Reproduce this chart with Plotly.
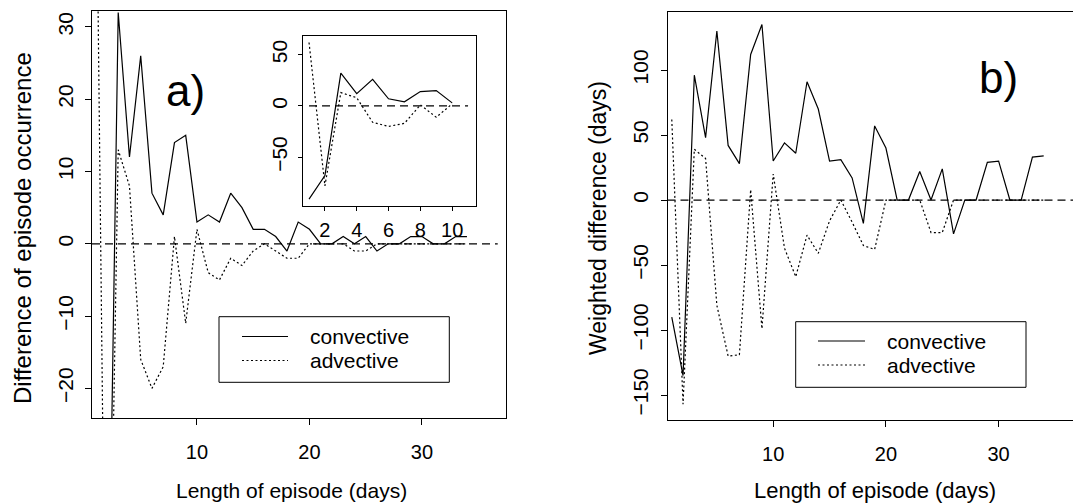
import plotly.graph_objects as go

# ---------------- data ----------------
days = list(range(1, 35))
conv_count = [-91, -68, 32, 12, 26, 7, 4, 14, 15, 3, 4, 3, 7, 5, 2, 2, 1, -1, 3, 2,
              0, 0, 1, 0, 1, -1, 0, 0, 1, 1, 0, 0, 1, 1]
adv_count = [62, -78, 13, 8, -16, -20, -17, 1, -11, 2, -4, -5, -2, -3, -1, 0, -1, -2, -2, 0,
             0, 0, 0, -1, -1, 0, 0, 0, 0, 0, 0, 0, 0, 0]
conv_weighted = [-90, -135, 96, 48, 130, 42, 28, 112, 135, 30, 44, 36, 91, 70, 30, 31, 17, -18, 57, 40,
                 0, 0, 22, 0, 24, -26, 0, 0, 29, 30, 0, 0, 33, 34]
adv_weighted = [62, -157, 39, 32, -81, -120, -119, 8, -99, 20, -37, -59, -27, -41, -16, 0, -17, -35, -38, 0,
                0, 0, 0, -25, -25, 0, 0, 0, 0, 0, 0, 0, 0, 0]
inset_n = 10
x_ticks = [10, 20, 30]
inset_x_ticks = [2, 4, 6, 8, 10]
ya_ticks = [-20, -10, 0, 10, 20, 30]
yb_ticks = [-150, -100, -50, 0, 50, 100]
inset_y_ticks = [-50, 0, 50]
series_names = ["convective", "advective"]

# ---------------- layout helpers ----------------
W, H = 1073, 503
FONT = "Liberation Sans, Arial, Helvetica, sans-serif"
def fx(p):
    return p / W
def fy(p):
    return 1 - p / H

LW = 1.2
DOT = "2px,2.5px"
DASH = "8px,5px"

fig = go.Figure()

def add_pair(xs, c, a, xa, ya):
    fig.add_trace(go.Scatter(x=xs, y=c, mode="lines", line=dict(color="black", width=LW),
                             xaxis=xa, yaxis=ya, showlegend=False, name=series_names[0]))
    fig.add_trace(go.Scatter(x=xs, y=a, mode="lines", line=dict(color="black", width=LW, dash=DOT),
                             xaxis=xa, yaxis=ya, showlegend=False, name=series_names[1]))

add_pair(days, conv_count, adv_count, "x", "y")
add_pair(days[:inset_n], conv_count[:inset_n], adv_count[:inset_n], "x2", "y2")
add_pair(days, conv_weighted, adv_weighted, "x3", "y3")

xtickfont = dict(family=FONT, size=20, color="black")
ytickfont = dict(family=FONT, size=21, color="black")
base = dict(showline=True, linecolor="black", linewidth=1, ticks="outside", ticklen=6,
            tickcolor="black", tickwidth=1, showgrid=False, zeroline=False, fixedrange=True)

fig.update_layout(
    width=W, height=H, autosize=False,
    margin=dict(l=0, r=0, t=0, b=0),
    paper_bgcolor="white", plot_bgcolor="white",
    font=dict(family=FONT, color="black"),
    xaxis=dict(base, domain=[fx(92), fx(506)], range=[0.67, 37.47], tickvals=x_ticks,
               mirror=True, anchor="y", ticklabelstandoff=10, tickfont=xtickfont),
    yaxis=dict(base, domain=[fy(418), fy(11)], range=[-24.1, 32.2], tickvals=ya_ticks,
               mirror=True, anchor="x", tickangle=-90, ticklabelstandoff=4, tickfont=ytickfont),
    xaxis2=dict(base, domain=[fx(302.5), fx(476)], range=[0.59, 11.5], tickvals=inset_x_ticks,
                mirror=True, anchor="y2", ticklen=4, ticklabelstandoff=2, tickfont=xtickfont),
    yaxis2=dict(base, domain=[fy(206), fy(35.5)], range=[-97.7, 68.8], tickvals=inset_y_ticks,
                mirror=True, anchor="x2", ticklen=4, tickangle=-90, ticklabelstandoff=2,
                tickfont=ytickfont),
    xaxis3=dict(base, domain=[fx(667.5), 1.0], range=[0.62, 36.6], tickvals=x_ticks,
                mirror=True, anchor="y3", ticklabelstandoff=10, tickfont=xtickfont),
    yaxis3=dict(base, domain=[fy(420), fy(12.3)], range=[-169.2, 144.4], tickvals=yb_ticks,
                mirror=False, anchor="x3", tickangle=-90, ticklabelstandoff=4, tickfont=ytickfont),
)

shapes = []
# zero reference lines
shapes.append(dict(type="line", xref="x domain", yref="y", x0=0, x1=0.98, y0=0, y1=0,
                   line=dict(color="black", width=LW, dash=DASH)))
shapes.append(dict(type="line", xref="x2", yref="y2", x0=1, x1=11, y0=0, y1=0,
                   line=dict(color="black", width=LW, dash=DASH)))
shapes.append(dict(type="line", xref="x3 domain", yref="y3", x0=0, x1=1, y0=0, y1=0,
                   line=dict(color="black", width=LW, dash=DASH)))

annotations = []
def legend(box, sx0, sx1, sy1, sy2, tx):
    l, t, r, b = box
    shapes.append(dict(type="rect", xref="paper", yref="paper", x0=fx(l), x1=fx(r), y0=fy(b), y1=fy(t),
                       line=dict(color="black", width=1), fillcolor="white", layer="above"))
    shapes.append(dict(type="line", xref="paper", yref="paper", x0=fx(sx0), x1=fx(sx1), y0=fy(sy1), y1=fy(sy1),
                       line=dict(color="black", width=LW)))
    shapes.append(dict(type="line", xref="paper", yref="paper", x0=fx(sx0), x1=fx(sx1), y0=fy(sy2), y1=fy(sy2),
                       line=dict(color="black", width=LW, dash=DOT)))
    for name, yy in zip(series_names, [sy1, sy2]):
        annotations.append(dict(xref="paper", yref="paper", x=fx(tx), y=fy(yy), text=name,
                                showarrow=False, xanchor="left", yanchor="middle", borderpad=0,
                                font=dict(family=FONT, size=21, color="black")))

legend((219, 316.7, 449.3, 382.3), 242, 288, 336.5, 360.5, 309)
legend((795.7, 321.7, 1026, 387.3), 818, 865, 341, 365, 886)

def text(x, y, s, size, angle=0):
    annotations.append(dict(xref="paper", yref="paper", x=fx(x), y=fy(y), text=s, showarrow=False,
                            xanchor="center", yanchor="middle", textangle=angle, borderpad=0,
                            font=dict(family=FONT, size=size, color="black")))

text(185, 91, "a)", 44)
text(998, 77.5, "b)", 44)
text(291, 490, "Length of episode (days)", 21)
text(875, 490, "Length of episode (days)", 22)
text(22, 228, "Difference of episode occurrence", 24, -90)
text(598, 218, "Weighted difference (days)", 23, -90)

fig.update_layout(shapes=shapes, annotations=annotations)
fig.write_html("out.html")
